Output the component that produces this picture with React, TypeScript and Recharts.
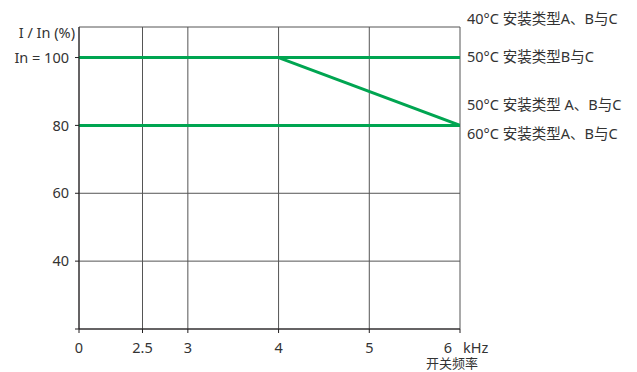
import React from 'react';
import { LineChart, Line, XAxis, YAxis, CartesianGrid } from 'recharts';

// axis is broken between 0 and 2.5 kHz: "0" sits at this position on the scale
const AXIS_ZERO = 1.8;

const freqTicks = [0, 2.5, 3, 4, 5, 6];
const currentTicks = [20, 40, 60, 80, 100];

// I/In (%) against switching frequency (kHz)
const nominalLine = [
  { f: 0, i: 100 },
  { f: 6, i: 100 },
];
const lowLine = [
  { f: 0, i: 80 },
  { f: 6, i: 80 },
];
const derateLine = [
  { f: 4, i: 100 },
  { f: 6, i: 80 },
];

const curveLabels = [
  '40°C 安装类型A、B与C',
  '50°C 安装类型B与C',
  '50°C 安装类型 A、B与C',
  '60°C 安装类型A、B与C',
];
const labelTops = [7, 45, 93, 122];

const GREEN = '#00a551';
const TEXT = '#333333';
const FONT = '"Noto Sans", "Noto Sans CJK SC", sans-serif';
const FS = 14.5;

const toAxis = (f: number) => (f === 0 ? AXIS_ZERO : f);
const prep = (d: { f: number; i: number }[]) => d.map(p => ({ x: toAxis(p.f), y: p.i }));

const FreqTick = (props: any) => {
  const { x, y, payload } = props;
  const v = payload.value;
  const label = v === AXIS_ZERO ? '0' : String(v);
  if (v === 6) {
    return (
      <g>
        <text x={x - 12} y={y + 18} textAnchor="middle" fill={TEXT} fontSize={FS} fontFamily={FONT}>6</text>
        <text x={x + 3} y={y + 18} textAnchor="start" fill={TEXT} fontSize={FS} fontFamily={FONT}>kHz</text>
      </g>
    );
  }
  return (
    <text x={x} y={y + 18} textAnchor="middle" fill={TEXT} fontSize={FS} fontFamily={FONT}>{label}</text>
  );
};

export default function App() {
  return (
    <div style={{ position: 'absolute', left: 0, top: 0, width: 637, height: 372, background: '#fff', fontFamily: FONT }}>
      <LineChart width={637} height={372} margin={{ top: 27, right: 177, bottom: 0, left: 0 }}>
        <CartesianGrid stroke="#555" strokeWidth={1} />
        <XAxis
          type="number"
          dataKey="x"
          domain={[AXIS_ZERO, 6]}
          ticks={freqTicks.map(toAxis)}
          tick={<FreqTick />}
          tickSize={4}
          height={43}
          stroke="#231f20"
          allowDataOverflow
        />
        <YAxis
          type="number"
          dataKey="y"
          domain={[20, 109]}
          ticks={currentTicks}
          width={79}
          tickSize={4}
          tickMargin={6}
          stroke="#231f20"
          tick={{ fill: TEXT, fontSize: FS, fontFamily: FONT }}
          tickFormatter={(v: number) => (v === 20 ? '' : v === 100 ? 'In = 100' : String(v))}
          allowDataOverflow
        />
        <Line data={prep(nominalLine)} dataKey="y" stroke={GREEN} strokeWidth={3} dot={false} isAnimationActive={false} />
        <Line data={prep(lowLine)} dataKey="y" stroke={GREEN} strokeWidth={3} dot={false} isAnimationActive={false} />
        <Line data={prep(derateLine)} dataKey="y" stroke={GREEN} strokeWidth={3} dot={false} isAnimationActive={false} />
      </LineChart>
      <div style={{ position: 'absolute', right: 562, top: 22, fontSize: FS, color: TEXT, whiteSpace: 'nowrap' }}>I / In (%)</div>
      <div style={{ position: 'absolute', left: 418, top: 356, width: 68, textAlign: 'center', fontSize: 13, lineHeight: '15px', color: TEXT, whiteSpace: 'nowrap' }}>开关频率</div>
      {curveLabels.map((t, k) => (
        <div key={k} style={{ position: 'absolute', left: 467, top: labelTops[k], fontSize: FS, color: TEXT, whiteSpace: 'nowrap' }}>
          {t}
        </div>
      ))}
    </div>
  );
}
